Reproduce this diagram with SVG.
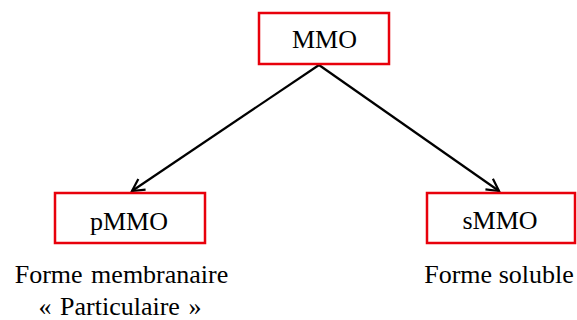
<svg xmlns="http://www.w3.org/2000/svg" width="577" height="320" viewBox="0 0 577 320">
<style>
.box{fill:#fff;stroke:#e8000b;stroke-width:2.5}
.c{stroke:#000;stroke-width:2.2;fill:none}
</style>
<defs>
<marker id="ah" markerWidth="16" markerHeight="16" refX="13" refY="8" orient="auto" markerUnits="userSpaceOnUse">
<path d="M1,1.5 L13,8 L1,14.5" fill="none" stroke="#000" stroke-width="2.2"/>
</marker>
</defs>
<rect width="577" height="320" fill="#fff"/>
<g id="connectors">
<line class="c" x1="319" y1="65" x2="132" y2="191" marker-end="url(#ah)"/>
<line class="c" x1="319" y1="65" x2="499" y2="191" marker-end="url(#ah)"/>
</g>
<g font-family="Liberation Serif, serif" font-size="26" fill="#000" text-anchor="middle">
<g id="mmo">
<rect class="box" x="259" y="13" width="130" height="51"/>
<text x="324.5" y="48">MMO</text>
</g>
<g id="pmmo">
<rect class="box" x="55" y="193" width="150" height="50"/>
<text x="129" y="230">pMMO</text>
<text x="121.5" y="283" word-spacing="2">Forme membranaire</text>
<text x="120" y="315" word-spacing="2">« Particulaire »</text>
</g>
<g id="smmo">
<rect class="box" x="427" y="193" width="148" height="50"/>
<text x="500" y="229">sMMO</text>
<text x="499" y="283">Forme soluble</text>
</g>
</g>
</svg>
